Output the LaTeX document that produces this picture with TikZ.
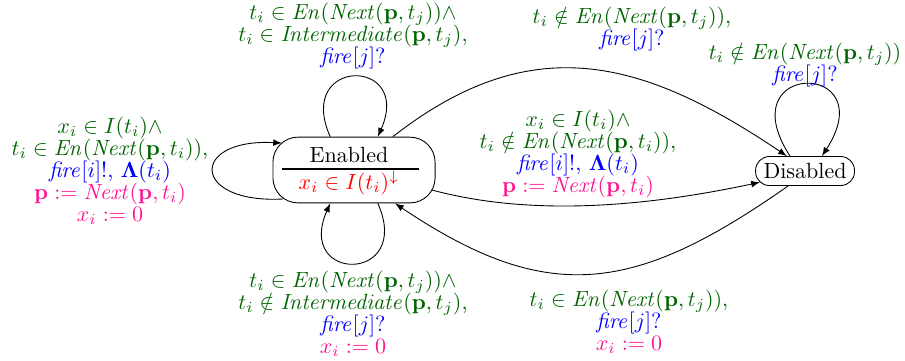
\documentclass[tikz,border=0pt]{standalone}
\usepackage{amsmath,amssymb}
\usetikzlibrary{arrows}

\definecolor{guarda}{RGB}{0,100,0}
\definecolor{sincro}{RGB}{0,0,255}
\definecolor{asigna}{RGB}{255,20,147}
\newcommand{\guardaT}[1]{\textcolor{guarda}{#1}}
\newcommand{\sincT}[1]{\textcolor{sincro}{#1}}
\newcommand{\asigT}[1]{\textcolor{asigna}{#1}}

\begin{document}
\begin{tikzpicture}[
      >=latex,
      estado/.style={draw=black, rounded corners=0.4cm, inner sep=0pt},
      etiqueta/.style={align=center},
      trans/.style={->, black}
    ]
    \useasboundingbox (0,0) rectangle (14.457,5.751);

    % --- Estados ---
    \node[estado, minimum width=2.59cm, minimum height=1.05cm] (en) at (5.655,3.035) {};
    \node (enNom) at (5.575,3.27) {Enabled};
    \draw[line width=0.9pt] (4.505,3.05) -- (6.693,3.05);
    \node[text=red] (enInv) at (5.575,2.83) {$x_i \in I(t_i)^{\downarrow}$};
    \node[estado, rounded corners=0.22cm, minimum width=1.58cm, minimum height=0.463cm] (dis) at (12.86,3.019) {Disabled};

    % --- Transiciones ---
    \draw[trans] ([xshift=-0.38cm]en.north) to[out=114, in=66, distance=1.4cm] ([xshift=0.38cm]en.north);
    \draw[trans] ([xshift=0.38cm]en.south) to[out=-66, in=-114, distance=1.4cm] ([xshift=-0.38cm]en.south);
    \draw[trans] ([shift={(-1.134,-0.463)}]en.center) to[out=183, in=177, distance=1.48cm] ([shift={(-1.15,0.431)}]en.center);
    \draw[trans] ([xshift=0.62cm]en.north) to[out=38, in=146, distance=2.8cm] ([xshift=-0.29cm]dis.north);
    \draw[trans] ([shift={(1.246,-0.32)}]en.center) to[out=-15, in=192, distance=1.73cm] ([shift={(-0.72,-0.18)}]dis.center);
    \draw[trans] ([xshift=-0.27cm]dis.south) to[out=215, in=-34, distance=2.97cm] ([xshift=0.655cm]en.south);
    \draw[trans] ([xshift=-0.24cm]dis.north) to[out=123, in=57, distance=1.83cm] ([xshift=0.27cm]dis.north);

    % --- Etiquetas ---
    \node[etiqueta] (eArriba) at (5.639,5.176) {%
      \guardaT{$t_i \in \mathit{En}(\mathit{Next}(\mathbf{p},t_j))\wedge$}\\[-2pt]
      \guardaT{$t_i \in \mathit{Intermediate}(\mathbf{p},t_j)$,}\\[-2pt]
      \sincT{$\mathit{fire}[j]?$}};
    \node[etiqueta] (eIzq) at (1.757,3.019) {%
      \guardaT{$x_i \in I(t_i)\wedge$}\\[-2pt]
      \guardaT{$t_i \in \mathit{En}(\mathit{Next}(\mathbf{p},t_i))$,}\\[-2pt]
      \sincT{$\mathit{fire}[i]!$, $\mathbf{\Lambda}(t_i)$}\\[-2pt]
      \asigT{$\mathbf{p} := \mathit{Next}(\mathbf{p},t_i)$}\\[-2pt]
      \asigT{$x_i := 0$}};
    \node[etiqueta] (eAbajo) at (5.639,0.735) {%
      \guardaT{$t_i \in \mathit{En}(\mathit{Next}(\mathbf{p},t_j))\wedge$}\\[-2pt]
      \guardaT{$t_i \notin \mathit{Intermediate}(\mathbf{p},t_j)$,}\\[-2pt]
      \sincT{$\mathit{fire}[j]?$}\\[-2pt]
      \asigT{$x_i := 0$}};
    \node[etiqueta] (eArco) at (10.096,5.288) {%
      \guardaT{$t_i \notin \mathit{En}(\mathit{Next}(\mathbf{p},t_j))$,}\\[-2pt]
      \sincT{$\mathit{fire}[j]?$}};
    \node[etiqueta] (eMedio) at (9.233,3.291) {%
      \guardaT{$x_i \in I(t_i)\wedge$}\\[-2pt]
      \guardaT{$t_i \notin \mathit{En}(\mathit{Next}(\mathbf{p},t_i))$,}\\[-2pt]
      \sincT{$\mathit{fire}[i]!$, $\mathbf{\Lambda}(t_i)$}\\[-2pt]
      \asigT{$\mathbf{p} := \mathit{Next}(\mathbf{p},t_i)$}};
    \node[etiqueta] (eVuelta) at (10.048,0.607) {%
      \guardaT{$t_i \in \mathit{En}(\mathit{Next}(\mathbf{p},t_j))$,}\\[-2pt]
      \sincT{$\mathit{fire}[j]?$}\\[-2pt]
      \asigT{$x_i := 0$}};
    \node[etiqueta] (eDis) at (12.86,4.712) {%
      \guardaT{$t_i \notin \mathit{En}(\mathit{Next}(\mathbf{p},t_j))$}\\[-2pt]
      \sincT{$\mathit{fire}[j]?$}};
  \end{tikzpicture}
\end{document}
